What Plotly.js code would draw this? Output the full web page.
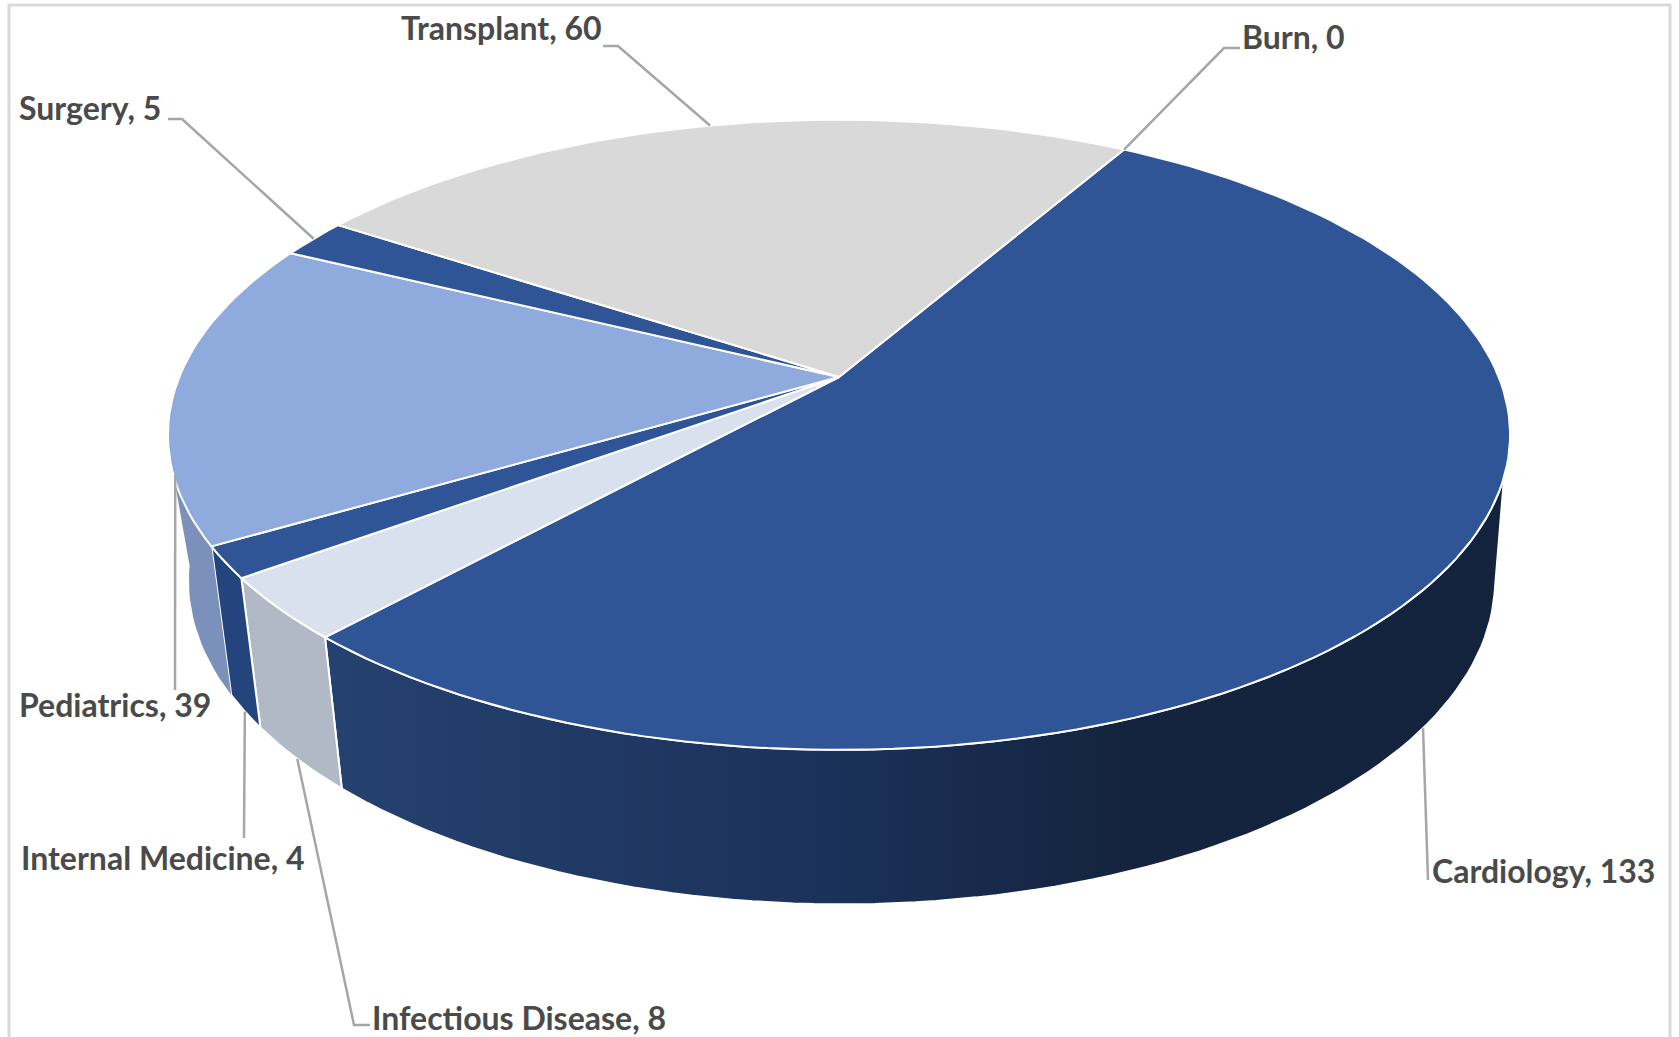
<!DOCTYPE html>
<html>
<head>
<meta charset="utf-8">
<script src="https://cdn.plot.ly/plotly-3.0.1.min.js"></script>
<style>html,body{margin:0;padding:0;background:#fff}#chart{width:1679px;height:1037px}</style>
</head>
<body>
<div id="chart"></div>
<script>
// Patient counts by service, clockwise from the first slice
const services = ['Cardiology', 'Infectious Disease', 'Internal Medicine', 'Pediatrics', 'Surgery', 'Transplant', 'Burn'];
const patients = [133, 8, 4, 39, 5, 60, 0];
const topColors = ['#2f5597', '#d9e1ef', '#2f5597', '#8faadc', '#2f5597', '#d9d9d9', '#a5a5a5'];
const sideColors = ['#24406f', '#b1b9c7', '#24447e', '#7b91bb', '#24447e', '#a3a3a3', '#7c7c7c'];

// Tilted-disc projection in page pixels
const START_DEG = 30.05;
const topDisc = {cx: 839, cy: 377, a: 659.7, b: 304.5, p: 0.1834};
const baseDisc = {cx: 842, cy: 521, a: 642, b: 313, p: 0.1834};

// Angular limits of the visible rim wall on each disc
const wallTop = [108, 252];
const wallBase = [103, 262];

// Label placement and leader elbows
const labelX = [1430, 370, 19, 17, 17, 399, 1240];
const labelY = [870, 1017, 857, 704, 107, 27, 36];
const leaderDisc = ['base', 'base', 'base', 'side', 'top', 'top', 'top'];
const leaderBend = [
  [[1428, 880]],
  [[354, 1025], [370, 1025]],
  [[244, 838]],
  [[175, 690]],
  [[182, 119], [168, 119]],
  [[618, 46], [603, 46]],
  [[1224, 48], [1240, 48]]
];

const total = patients.reduce((s, v) => s + v, 0);

function project(disc, deg) {
  const t = deg * Math.PI / 180;
  const X = Math.sin(t), Y = Math.cos(t), w = 1 + disc.p * Y;
  return [disc.cx + disc.a * X / w, disc.cy - disc.b * Y / w];
}

function arc(disc, from, to) {
  const n = Math.max(2, Math.ceil(Math.abs(to - from) / 1.5));
  const pts = [];
  for (let i = 0; i <= n; i++) pts.push(project(disc, from + (to - from) * i / n));
  return pts;
}

function polygon(pts, color, extra) {
  return Object.assign({
    type: 'scatter', mode: 'lines', hoverinfo: 'skip', showlegend: false,
    x: pts.map(p => p[0]), y: pts.map(p => p[1]),
    fill: 'toself', fillcolor: color,
    line: {color: '#ffffff', width: 2}
  }, extra || {});
}

// Slice boundaries from the counts
const bounds = [];
let running = START_DEG;
patients.forEach(v => {
  const sweep = v / total * 360;
  bounds.push([running, running + sweep]);
  running += sweep;
});

const traces = [];

// Rim walls that face the viewer
patients.forEach((v, i) => {
  if (v === 0) return;
  const [a, b] = bounds[i];
  if (b <= wallBase[0] || a >= wallBase[1]) return;
  const pts = arc(topDisc, Math.max(a, wallTop[0]), Math.min(b, wallTop[1]))
    .concat(arc(baseDisc, Math.min(b, wallBase[1]), Math.max(a, wallBase[0])));
  pts.push(pts[0]);
  const extra = {};
  if (i === 0) {
    extra.fillgradient = {
      type: 'horizontal', start: 340, stop: 1500,
      colorscale: [[0, '#25416f'], [0.4, '#1c325b'], [0.68, '#14243f'], [1, '#13233d']]
    };
  }
  if (i === 3) {
    extra.line = {color: 'rgba(255,255,255,0)', width: 0};
  }
  traces.push(polygon(pts, sideColors[i], extra));
});

// Top faces
patients.forEach((v, i) => {
  if (v === 0) return;
  const pts = [[topDisc.cx, topDisc.cy]].concat(arc(topDisc, bounds[i][0], bounds[i][1]));
  pts.push([topDisc.cx, topDisc.cy]);
  traces.push(polygon(pts, topColors[i]));
});

// Leader lines run from each slice's mid-angle to its label
services.forEach((name, i) => {
  const mid = (bounds[i][0] + bounds[i][1]) / 2;
  let anchor;
  if (leaderDisc[i] === 'base') anchor = project(baseDisc, mid);
  else if (leaderDisc[i] === 'top') anchor = project(topDisc, mid);
  else {
    const a = project(topDisc, mid), b = project(baseDisc, mid);
    anchor = [a[0], a[1] + (b[1] - a[1]) * 0.6];
  }
  const pts = [anchor].concat(leaderBend[i]);
  traces.push({
    type: 'scatter', mode: 'lines', hoverinfo: 'skip', showlegend: false,
    x: pts.map(p => p[0]), y: pts.map(p => p[1]),
    line: {color: '#a6a6a6', width: 2.5}
  });
});

const annotations = services.map((name, i) => ({
  x: labelX[i], y: labelY[i], xref: 'x', yref: 'y',
  xanchor: 'left', yanchor: 'middle', showarrow: false,
  text: name + ', ' + patients[i],
  font: {family: 'Lato, "Open Sans", sans-serif', size: 32, color: '#4a4a4a', weight: 700}
}));

const layout = {
  width: 1679, height: 1037,
  margin: {l: 0, r: 0, t: 0, b: 0},
  paper_bgcolor: '#ffffff', plot_bgcolor: '#ffffff',
  showlegend: false,
  xaxis: {range: [0, 1679], visible: false, fixedrange: true},
  yaxis: {range: [1037, 0], visible: false, fixedrange: true},
  annotations,
  shapes: [{
    type: 'rect', xref: 'x', yref: 'y', x0: 9, x1: 1670, y0: 5, y1: 1060,
    line: {color: '#d9d9d9', width: 3}, fillcolor: 'rgba(0,0,0,0)', layer: 'below'
  }]
};

Plotly.newPlot('chart', traces, layout, {displayModeBar: false, staticPlot: true});
</script>
</body>
</html>
